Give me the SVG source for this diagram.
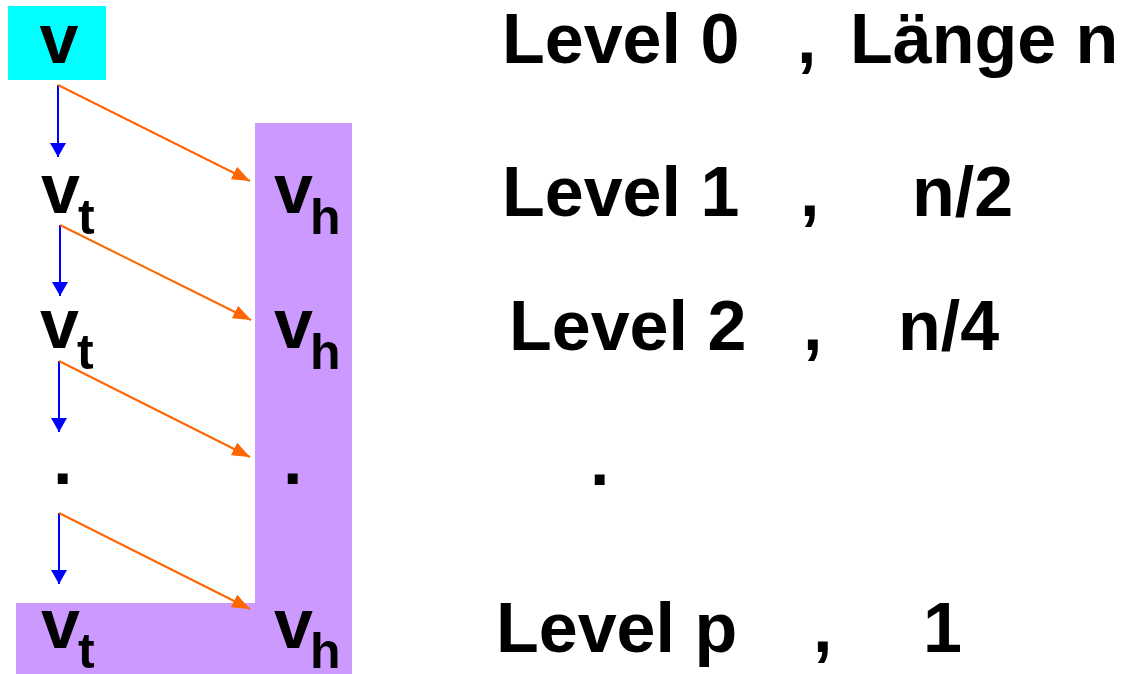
<svg xmlns="http://www.w3.org/2000/svg" width="1122" height="674" viewBox="0 0 1122 674">
<style>
text{font-family:"Liberation Sans",Arial,sans-serif;font-weight:bold;fill:#000;font-size:70px}
.sub{font-size:50px}
.blue{stroke:#0000FF;stroke-width:2;fill:none}
.orange{stroke:#FF6600;stroke-width:2;fill:none}
</style>
<defs>
<marker id="ab" viewBox="0 0 14 16" refX="14" refY="8" markerWidth="14" markerHeight="16" markerUnits="userSpaceOnUse" orient="auto">
<path d="M0,0 L14,8 L0,16 z" fill="#0000FF"/>
</marker>
<marker id="ao" viewBox="0 0 18 14" refX="18" refY="7" markerWidth="18" markerHeight="14" markerUnits="userSpaceOnUse" orient="auto">
<path d="M0,0 L18,7 L0,14 z" fill="#FF6600"/>
</marker>
</defs>
<rect width="1122" height="674" fill="#fff"/>
<g id="bands">
<path d="M255,123 H352 V674 H16 V603 H255 Z" fill="#CC99FF"/>
</g>
<g id="node-v">
<rect x="8" y="6" width="98" height="74" fill="#00FFFF"/>
<text x="59" y="63" text-anchor="middle">v</text>
</g>
<g id="node-vt1"><text x="41" y="213">v<tspan class="sub" dx="-2" dy="21">t</tspan></text></g>
<g id="node-vh1"><text x="274" y="213">v<tspan class="sub" dx="-3" dy="21">h</tspan></text></g>
<g id="node-vt2"><text x="40" y="348">v<tspan class="sub" dx="-2" dy="21">t</tspan></text></g>
<g id="node-vh2"><text x="274" y="348">v<tspan class="sub" dx="-3" dy="21">h</tspan></text></g>
<g id="node-dot1"><text x="53" y="484">.</text></g>
<g id="node-dot2"><text x="283" y="484">.</text></g>
<g id="node-vtp"><text x="41" y="648">v<tspan class="sub" dx="-2" dy="20">t</tspan></text></g>
<g id="node-vhp"><text x="274" y="648">v<tspan class="sub" dx="-3" dy="20">h</tspan></text></g>
<g id="connectors">
<line class="blue" x1="58" y1="85" x2="58" y2="157" marker-end="url(#ab)"/>
<line class="orange" x1="58" y1="85" x2="250" y2="181" marker-end="url(#ao)"/>
<line class="blue" x1="60" y1="225" x2="60" y2="296" marker-end="url(#ab)"/>
<line class="orange" x1="60" y1="225" x2="251" y2="320" marker-end="url(#ao)"/>
<line class="blue" x1="59" y1="361" x2="59" y2="432" marker-end="url(#ab)"/>
<line class="orange" x1="59" y1="361" x2="250" y2="457" marker-end="url(#ao)"/>
<line class="blue" x1="59" y1="513" x2="59" y2="584" marker-end="url(#ab)"/>
<line class="orange" x1="59" y1="513" x2="250" y2="609" marker-end="url(#ao)"/>
</g>
<g id="labels">
<text y="63"><tspan x="502">Level 0</tspan><tspan x="797">,</tspan><tspan x="850">Länge n</tspan></text>
<text y="216"><tspan x="502">Level 1</tspan><tspan x="800">,</tspan><tspan x="912">n/2</tspan></text>
<text y="350"><tspan x="509">Level 2</tspan><tspan x="803">,</tspan><tspan x="898">n/4</tspan></text>
<text x="590" y="485">.</text>
<text y="652"><tspan x="496">Level p</tspan><tspan x="813">,</tspan><tspan x="923">1</tspan></text>
</g>
</svg>
